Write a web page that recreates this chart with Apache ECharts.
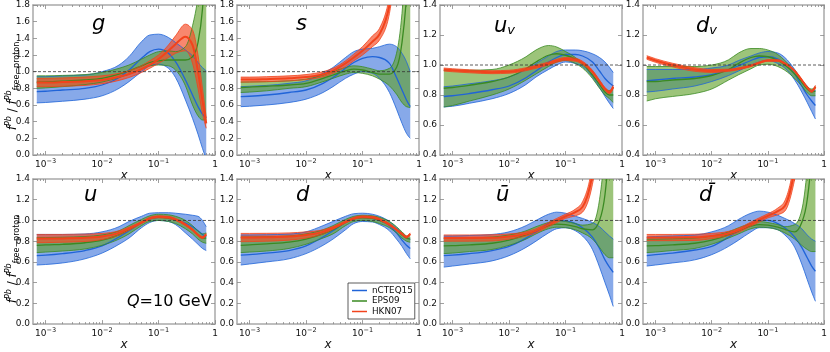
<!DOCTYPE html>
<html>
<head>
<meta charset="utf-8">
<script src="https://cdn.jsdelivr.net/npm/echarts@6/dist/echarts.min.js"></script>
<style>
html, body { margin: 0; padding: 0; background: #fff; }
#main { width: 830px; height: 352px; }
</style>
</head>
<body>
<div id="main"></div>
<script>
// x grid shared by every curve
var xs = [0.0007, 0.001, 0.002, 0.005, 0.01, 0.02, 0.03, 0.05, 0.07, 0.1, 0.15, 0.2, 0.3, 0.4, 0.5, 0.6, 0.7];

// g
var gBlueHi   = [0.94, 0.94, 0.95, 0.96, 1.00, 1.08, 1.18, 1.36, 1.44, 1.45, 1.41, 1.35, 1.26, 1.19, 1.11, 1.05, 1.01];
var gBlueMid  = [0.76, 0.765, 0.78, 0.80, 0.84, 0.93, 1.02, 1.16, 1.24, 1.27, 1.22, 1.12, 0.90, 0.72, 0.58, 0.49, 0.44];
var gBlueLo   = [0.625, 0.63, 0.645, 0.67, 0.71, 0.80, 0.88, 1.00, 1.07, 1.09, 1.04, 0.93, 0.66, 0.44, 0.25, 0.08, -0.05];
var gGreenHi  = [0.95, 0.95, 0.955, 0.965, 0.99, 1.04, 1.08, 1.15, 1.20, 1.24, 1.25, 1.24, 1.30, 1.55, 1.90, 2.40, 3.00];
var gGreenMid = [0.875, 0.877, 0.885, 0.90, 0.92, 0.97, 1.01, 1.07, 1.11, 1.13, 1.14, 1.14, 1.14, 1.18, 1.35, 1.75, 2.50];
var gGreenLo  = [0.80, 0.805, 0.82, 0.845, 0.875, 0.93, 0.97, 1.03, 1.07, 1.08, 1.07, 1.02, 0.83, 0.60, 0.47, 0.42, 0.42];
var gRedHi    = [0.92, 0.92, 0.925, 0.935, 0.95, 0.98, 1.01, 1.07, 1.13, 1.20, 1.32, 1.43, 1.57, 1.50, 1.20, 0.80, 0.45];
var gRedMid   = [0.87, 0.87, 0.875, 0.885, 0.90, 0.94, 0.97, 1.03, 1.08, 1.15, 1.25, 1.33, 1.42, 1.32, 1.00, 0.65, 0.38];
var gRedLo    = [0.82, 0.82, 0.825, 0.835, 0.855, 0.895, 0.93, 0.99, 1.04, 1.10, 1.17, 1.22, 1.25, 1.10, 0.80, 0.50, 0.32];

// s
var sBlueHi   = [0.82, 0.825, 0.835, 0.86, 0.89, 0.98, 1.05, 1.17, 1.24, 1.27, 1.28, 1.30, 1.33, 1.30, 1.22, 1.12, 1.00];
var sBlueMid  = [0.70, 0.705, 0.72, 0.75, 0.78, 0.86, 0.93, 1.04, 1.11, 1.16, 1.18, 1.17, 1.10, 0.93, 0.78, 0.66, 0.58];
var sBlueLo   = [0.58, 0.585, 0.60, 0.63, 0.67, 0.75, 0.82, 0.92, 0.97, 1.00, 0.98, 0.92, 0.75, 0.55, 0.38, 0.26, 0.20];
var sGreenHi  = [0.875, 0.877, 0.88, 0.89, 0.91, 0.96, 1.00, 1.05, 1.07, 1.06, 1.03, 1.01, 1.04, 1.22, 1.70, 2.50, 3.50];
var sGreenMid = [0.81, 0.815, 0.825, 0.84, 0.86, 0.92, 0.96, 1.01, 1.03, 1.02, 0.99, 0.97, 0.97, 1.05, 1.35, 1.90, 2.80];
var sGreenLo  = [0.75, 0.755, 0.77, 0.80, 0.82, 0.88, 0.92, 0.97, 0.99, 0.98, 0.95, 0.91, 0.83, 0.73, 0.63, 0.58, 0.57];
var sRedHi    = [0.935, 0.935, 0.94, 0.95, 0.965, 1.00, 1.04, 1.13, 1.21, 1.30, 1.43, 1.52, 1.90, 2.50, 3.00, 3.50, 4.00];
var sRedMid   = [0.905, 0.905, 0.91, 0.92, 0.935, 0.97, 1.01, 1.10, 1.17, 1.25, 1.36, 1.45, 1.80, 2.40, 2.90, 3.40, 3.90];
var sRedLo    = [0.875, 0.875, 0.88, 0.89, 0.905, 0.94, 0.98, 1.06, 1.13, 1.20, 1.30, 1.38, 1.70, 2.30, 2.80, 3.30, 3.80];

// u valence
var uvBlueHi   = [0.855, 0.86, 0.875, 0.895, 0.92, 0.97, 1.01, 1.06, 1.09, 1.10, 1.10, 1.095, 1.075, 1.05, 1.02, 0.985, 0.95];
var uvBlueMid  = [0.79, 0.795, 0.81, 0.835, 0.86, 0.915, 0.96, 1.02, 1.05, 1.07, 1.07, 1.06, 1.02, 0.96, 0.91, 0.88, 0.86];
var uvBlueLo   = [0.72, 0.725, 0.745, 0.775, 0.81, 0.87, 0.92, 0.97, 1.00, 1.02, 1.01, 0.99, 0.92, 0.85, 0.79, 0.745, 0.71];
var uvGreenHi  = [0.965, 0.965, 0.965, 0.97, 1.00, 1.055, 1.10, 1.13, 1.12, 1.09, 1.05, 1.01, 0.93, 0.875, 0.84, 0.83, 0.845];
var uvGreenMid = [0.845, 0.85, 0.865, 0.89, 0.92, 0.975, 1.02, 1.065, 1.075, 1.065, 1.04, 1.01, 0.935, 0.87, 0.82, 0.80, 0.80];
var uvGreenLo  = [0.72, 0.73, 0.76, 0.80, 0.84, 0.90, 0.94, 0.99, 1.02, 1.03, 1.01, 0.98, 0.91, 0.845, 0.80, 0.775, 0.75];
var uvRedHi    = [0.98, 0.975, 0.968, 0.962, 0.965, 0.982, 0.998, 1.02, 1.038, 1.05, 1.045, 1.025, 0.965, 0.90, 0.85, 0.828, 0.865];
var uvRedMid   = [0.97, 0.965, 0.958, 0.952, 0.955, 0.972, 0.988, 1.01, 1.028, 1.04, 1.035, 1.015, 0.955, 0.89, 0.84, 0.818, 0.855];
var uvRedLo    = [0.96, 0.955, 0.948, 0.942, 0.945, 0.962, 0.978, 1.00, 1.018, 1.03, 1.025, 1.005, 0.945, 0.88, 0.83, 0.808, 0.845];

// d valence
var dvBlueHi   = [0.97, 0.97, 0.97, 0.97, 0.98, 1.00, 1.03, 1.06, 1.08, 1.09, 1.08, 1.05, 0.97, 0.90, 0.86, 0.83, 0.83];
var dvBlueMid  = [0.895, 0.90, 0.91, 0.92, 0.935, 0.97, 0.995, 1.03, 1.05, 1.055, 1.04, 1.01, 0.94, 0.86, 0.80, 0.76, 0.73];
var dvBlueLo   = [0.82, 0.825, 0.84, 0.86, 0.89, 0.93, 0.96, 1.00, 1.02, 1.03, 1.01, 0.98, 0.90, 0.82, 0.75, 0.69, 0.64];
var dvGreenHi  = [0.99, 0.99, 0.99, 0.99, 1.00, 1.035, 1.08, 1.11, 1.11, 1.10, 1.07, 1.03, 0.96, 0.90, 0.855, 0.84, 0.855];
var dvGreenMid = [0.89, 0.89, 0.90, 0.91, 0.93, 0.97, 1.01, 1.05, 1.06, 1.055, 1.03, 1.00, 0.94, 0.885, 0.84, 0.82, 0.825];
var dvGreenLo  = [0.76, 0.775, 0.79, 0.81, 0.84, 0.90, 0.935, 0.975, 1.00, 1.005, 0.99, 0.965, 0.91, 0.86, 0.815, 0.795, 0.795];
var dvRedHi    = [1.062, 1.042, 1.012, 0.982, 0.97, 0.972, 0.981, 1.00, 1.02, 1.035, 1.035, 1.015, 0.965, 0.905, 0.855, 0.832, 0.865];
var dvRedMid   = [1.05, 1.03, 1.00, 0.97, 0.96, 0.965, 0.975, 0.995, 1.015, 1.03, 1.03, 1.01, 0.96, 0.90, 0.85, 0.825, 0.855];
var dvRedLo    = [1.038, 1.018, 0.988, 0.958, 0.95, 0.958, 0.969, 0.99, 1.01, 1.025, 1.025, 1.005, 0.955, 0.895, 0.845, 0.818, 0.845];

// u
var uBlueHi   = [0.865, 0.865, 0.865, 0.87, 0.89, 0.94, 0.99, 1.04, 1.07, 1.075, 1.075, 1.07, 1.06, 1.05, 1.04, 1.00, 0.94];
var uBlueMid  = [0.66, 0.665, 0.68, 0.71, 0.755, 0.84, 0.90, 0.975, 1.015, 1.03, 1.03, 1.01, 0.975, 0.94, 0.90, 0.865, 0.84];
var uBlueLo   = [0.57, 0.575, 0.59, 0.63, 0.685, 0.77, 0.83, 0.93, 0.98, 1.00, 0.99, 0.96, 0.88, 0.82, 0.77, 0.73, 0.71];
var uGreenHi  = [0.835, 0.835, 0.838, 0.845, 0.86, 0.90, 0.95, 1.01, 1.045, 1.06, 1.055, 1.04, 1.00, 0.95, 0.90, 0.87, 0.88];
var uGreenMid = [0.76, 0.765, 0.77, 0.785, 0.81, 0.86, 0.91, 0.98, 1.02, 1.03, 1.02, 1.005, 0.96, 0.91, 0.86, 0.83, 0.83];
var uGreenLo  = [0.69, 0.695, 0.705, 0.725, 0.76, 0.82, 0.87, 0.95, 0.99, 1.00, 0.99, 0.97, 0.92, 0.87, 0.82, 0.79, 0.78];
var uRedHi    = [0.865, 0.865, 0.865, 0.868, 0.875, 0.90, 0.935, 0.99, 1.03, 1.045, 1.04, 1.02, 0.97, 0.92, 0.87, 0.845, 0.875];
var uRedMid   = [0.825, 0.825, 0.827, 0.832, 0.845, 0.88, 0.92, 0.98, 1.02, 1.035, 1.03, 1.01, 0.96, 0.91, 0.86, 0.835, 0.865];
var uRedLo    = [0.785, 0.786, 0.79, 0.797, 0.815, 0.86, 0.905, 0.97, 1.01, 1.025, 1.02, 1.00, 0.95, 0.90, 0.85, 0.825, 0.855];

// d
var dBlueHi   = [0.86, 0.86, 0.862, 0.868, 0.89, 0.95, 0.99, 1.04, 1.065, 1.07, 1.06, 1.04, 0.99, 0.93, 0.88, 0.84, 0.82];
var dBlueMid  = [0.665, 0.67, 0.685, 0.71, 0.755, 0.84, 0.90, 0.98, 1.02, 1.03, 1.02, 1.00, 0.95, 0.88, 0.81, 0.76, 0.73];
var dBlueLo   = [0.57, 0.58, 0.60, 0.63, 0.68, 0.76, 0.82, 0.91, 0.97, 0.99, 0.985, 0.96, 0.90, 0.82, 0.75, 0.68, 0.63];
var dGreenHi  = [0.84, 0.84, 0.843, 0.85, 0.87, 0.91, 0.95, 1.01, 1.04, 1.05, 1.045, 1.03, 0.99, 0.94, 0.89, 0.85, 0.84];
var dGreenMid = [0.76, 0.765, 0.775, 0.79, 0.82, 0.87, 0.91, 0.98, 1.015, 1.025, 1.02, 1.00, 0.96, 0.91, 0.86, 0.83, 0.82];
var dGreenLo  = [0.69, 0.695, 0.705, 0.73, 0.77, 0.83, 0.87, 0.95, 0.99, 1.00, 0.99, 0.97, 0.93, 0.88, 0.83, 0.80, 0.79];
var dRedHi    = [0.875, 0.875, 0.876, 0.88, 0.89, 0.91, 0.94, 0.995, 1.03, 1.045, 1.04, 1.02, 0.97, 0.92, 0.88, 0.85, 0.88];
var dRedMid   = [0.835, 0.835, 0.838, 0.845, 0.86, 0.89, 0.93, 0.985, 1.02, 1.035, 1.03, 1.01, 0.96, 0.91, 0.87, 0.84, 0.87];
var dRedLo    = [0.795, 0.796, 0.80, 0.81, 0.83, 0.87, 0.915, 0.975, 1.01, 1.025, 1.02, 1.00, 0.95, 0.90, 0.86, 0.83, 0.86];

// u bar
var ubBlueHi   = [0.85, 0.85, 0.855, 0.865, 0.89, 0.95, 1.00, 1.06, 1.08, 1.07, 1.04, 1.02, 0.98, 0.94, 0.89, 0.85, 0.82];
var ubBlueMid  = [0.66, 0.665, 0.68, 0.71, 0.75, 0.83, 0.89, 0.97, 1.00, 0.995, 0.97, 0.93, 0.84, 0.73, 0.62, 0.55, 0.50];
var ubBlueLo   = [0.55, 0.56, 0.58, 0.61, 0.66, 0.74, 0.80, 0.88, 0.92, 0.93, 0.90, 0.85, 0.72, 0.55, 0.40, 0.28, 0.17];
var ubGreenHi  = [0.83, 0.83, 0.832, 0.84, 0.86, 0.90, 0.94, 0.98, 1.00, 0.99, 0.97, 0.955, 0.97, 1.20, 1.70, 2.40, 3.20];
var ubGreenMid = [0.755, 0.757, 0.765, 0.78, 0.81, 0.86, 0.90, 0.95, 0.965, 0.96, 0.94, 0.92, 0.91, 1.00, 1.25, 1.75, 2.50];
var ubGreenLo  = [0.68, 0.685, 0.70, 0.72, 0.76, 0.82, 0.87, 0.92, 0.935, 0.93, 0.91, 0.88, 0.82, 0.74, 0.67, 0.64, 0.64];
var ubRedHi    = [0.86, 0.86, 0.86, 0.862, 0.87, 0.89, 0.92, 0.98, 1.02, 1.06, 1.11, 1.18, 1.55, 2.20, 3.00, 3.80, 4.50];
var ubRedMid   = [0.83, 0.83, 0.83, 0.832, 0.845, 0.87, 0.90, 0.96, 1.00, 1.04, 1.08, 1.13, 1.45, 2.00, 2.80, 3.60, 4.30];
var ubRedLo    = [0.80, 0.80, 0.80, 0.802, 0.82, 0.85, 0.88, 0.94, 0.98, 1.02, 1.045, 1.08, 1.35, 1.80, 2.60, 3.40, 4.10];

// d bar
var dbBlueHi   = [0.84, 0.845, 0.85, 0.86, 0.89, 0.95, 1.01, 1.07, 1.09, 1.08, 1.05, 1.02, 0.97, 0.92, 0.86, 0.82, 0.80];
var dbBlueMid  = [0.66, 0.67, 0.685, 0.715, 0.75, 0.84, 0.90, 0.97, 1.00, 1.00, 0.97, 0.93, 0.84, 0.74, 0.64, 0.56, 0.51];
var dbBlueLo   = [0.56, 0.57, 0.59, 0.62, 0.67, 0.75, 0.81, 0.89, 0.93, 0.93, 0.91, 0.86, 0.74, 0.58, 0.43, 0.31, 0.22];
var dbGreenHi  = [0.82, 0.82, 0.823, 0.83, 0.85, 0.89, 0.93, 0.97, 0.99, 0.98, 0.96, 0.94, 0.96, 1.10, 1.50, 2.10, 3.00];
var dbGreenMid = [0.755, 0.757, 0.765, 0.78, 0.81, 0.86, 0.90, 0.945, 0.96, 0.955, 0.935, 0.915, 0.89, 0.98, 1.20, 1.65, 2.50];
var dbGreenLo  = [0.69, 0.695, 0.71, 0.73, 0.77, 0.83, 0.87, 0.92, 0.935, 0.93, 0.91, 0.88, 0.82, 0.76, 0.72, 0.70, 0.70];
var dbRedHi    = [0.865, 0.865, 0.865, 0.867, 0.875, 0.895, 0.925, 0.985, 1.025, 1.065, 1.12, 1.19, 1.60, 2.20, 3.00, 3.80, 4.50];
var dbRedMid   = [0.835, 0.835, 0.835, 0.837, 0.85, 0.875, 0.905, 0.965, 1.005, 1.045, 1.09, 1.14, 1.50, 2.00, 2.80, 3.60, 4.30];
var dbRedLo    = [0.805, 0.805, 0.805, 0.807, 0.825, 0.855, 0.885, 0.945, 0.985, 1.025, 1.055, 1.09, 1.40, 1.80, 2.60, 3.40, 4.10];

var xMajor = [0.001, 0.01, 0.1, 1];
var xMinor = [];
[0.0001, 0.001, 0.01, 0.1].forEach(function (d) {
    for (var m = 2; m <= 9; m++) {
        var v = m * d;
        if (v > 0.00061 && v < 1) xMinor.push(v);
    }
});

var FONT = 'DejaVu Sans';
var FRAME = '#a9a9a9';
var COLORS = {
    blue:  { line: '#2064d8', fill: 'rgba(55,112,218,0.6)', name: 'nCTEQ15' },
    green: { line: '#3a8a22', fill: 'rgba(95,160,40,0.62)', name: 'EPS09' },
    red:   { line: '#f2431c', fill: 'rgba(244,78,42,0.68)', name: 'HKN07' }
};

var panels = [
    { blue: [gBlueLo, gBlueMid, gBlueHi], green: [gGreenLo, gGreenMid, gGreenHi], red: [gRedLo, gRedMid, gRedHi], ymin: 0, ymax: 1.8 },
    { blue: [sBlueLo, sBlueMid, sBlueHi], green: [sGreenLo, sGreenMid, sGreenHi], red: [sRedLo, sRedMid, sRedHi], ymin: 0, ymax: 1.8 },
    { blue: [uvBlueLo, uvBlueMid, uvBlueHi], green: [uvGreenLo, uvGreenMid, uvGreenHi], red: [uvRedLo, uvRedMid, uvRedHi], ymin: 0.4, ymax: 1.4 },
    { blue: [dvBlueLo, dvBlueMid, dvBlueHi], green: [dvGreenLo, dvGreenMid, dvGreenHi], red: [dvRedLo, dvRedMid, dvRedHi], ymin: 0.4, ymax: 1.4 },
    { blue: [uBlueLo, uBlueMid, uBlueHi], green: [uGreenLo, uGreenMid, uGreenHi], red: [uRedLo, uRedMid, uRedHi], ymin: 0, ymax: 1.4 },
    { blue: [dBlueLo, dBlueMid, dBlueHi], green: [dGreenLo, dGreenMid, dGreenHi], red: [dRedLo, dRedMid, dRedHi], ymin: 0, ymax: 1.4 },
    { blue: [ubBlueLo, ubBlueMid, ubBlueHi], green: [ubGreenLo, ubGreenMid, ubGreenHi], red: [ubRedLo, ubRedMid, ubRedHi], ymin: 0, ymax: 1.4 },
    { blue: [dbBlueLo, dbBlueMid, dbBlueHi], green: [dbGreenLo, dbGreenMid, dbGreenHi], red: [dbRedLo, dbRedMid, dbRedHi], ymin: 0, ymax: 1.4 }
];

var lefts = [33, 237, 440, 643];
var tops = [5, 179];
var W = 182, H = 150;

function fmtX(v) {
    var e = Math.round(Math.log(v) / Math.LN10);
    if (e === 0) return '{b|1}';
    return '{b|10}{s|\u2212' + (-e) + '}';
}

// monotone cubic through pixel points (same idea as d3 curveMonotoneX)
function curvePath(pts, start) {
    var n = pts.length, h = [], s = [], m = [], i;
    for (i = 0; i < n - 1; i++) {
        h[i] = pts[i + 1][0] - pts[i][0];
        s[i] = h[i] ? (pts[i + 1][1] - pts[i][1]) / h[i] : 0;
    }
    for (i = 1; i < n - 1; i++) {
        var p = (s[i - 1] * h[i] + s[i] * h[i - 1]) / (h[i - 1] + h[i]);
        m[i] = (Math.sign(s[i - 1]) + Math.sign(s[i])) *
            Math.min(Math.abs(s[i - 1]), Math.abs(s[i]), 0.5 * Math.abs(p)) || 0;
    }
    m[0] = (3 * s[0] - m[1]) / 2;
    m[n - 1] = (3 * s[n - 2] - m[n - 2]) / 2;
    var d = start + pts[0][0] + ',' + pts[0][1];
    for (i = 0; i < n - 1; i++) {
        var dx = h[i] / 3;
        d += 'C' + (pts[i][0] + dx) + ',' + (pts[i][1] + dx * m[i]) + ',' +
            (pts[i + 1][0] - dx) + ',' + (pts[i + 1][1] - dx * m[i + 1]) + ',' +
            pts[i + 1][0] + ',' + pts[i + 1][1];
    }
    return d;
}

function toPx(api, ys) {
    return xs.map(function (x, j) { return api.coord([x, ys[j]]); });
}

var grids = [], xAxes = [], yAxes = [], series = [];

panels.forEach(function (p, i) {
    var col = i % 4, row = Math.floor(i / 4);
    grids.push({ left: lefts[col], top: tops[row], width: W, height: row ? H - 1 : H });

    var xBase = { gridIndex: i, type: 'log', logBase: 10, min: 0.0006, max: 1, splitLine: { show: false } };
    xAxes.push(Object.assign({}, xBase, {
        position: 'bottom',
        name: 'x', nameLocation: 'middle', nameGap: 9,
        nameTextStyle: { fontFamily: FONT, fontStyle: 'italic', fontSize: 12, color: '#111' },
        axisLine: { show: true, onZero: false, lineStyle: { color: FRAME, width: 1.5 } },
        axisTick: { show: true, inside: true, length: 4, customValues: xMajor, lineStyle: { color: '#888', width: 0.8 } },
        axisLabel: {
            show: true, customValues: xMajor, margin: 3, formatter: fmtX,
            showMinLabel: true, showMaxLabel: true, hideOverlap: false,
            rich: {
                b: { fontFamily: FONT, fontSize: 9, color: '#111', lineHeight: 11, verticalAlign: 'bottom' },
                s: { fontFamily: FONT, fontSize: 6.5, color: '#111', lineHeight: 7, verticalAlign: 'top' }
            }
        }
    }));
    xAxes.push(Object.assign({}, xBase, {
        position: 'top',
        axisLine: { show: true, onZero: false, lineStyle: { color: FRAME, width: 1.5 } },
        axisTick: { show: true, inside: true, length: 4, customValues: xMajor, lineStyle: { color: '#888', width: 0.8 } },
        axisLabel: { show: false }
    }));
    ['bottom', 'top'].forEach(function (pos) {
        xAxes.push(Object.assign({}, xBase, {
            position: pos,
            axisLine: { show: false, onZero: false },
            axisTick: { show: true, inside: true, length: 2, customValues: xMinor, lineStyle: { color: '#888', width: 0.8 } },
            axisLabel: { show: false }
        }));
    });

    var yBase = { gridIndex: i, type: 'value', min: p.ymin, max: p.ymax, interval: 0.2, splitLine: { show: false } };
    yAxes.push(Object.assign({}, yBase, {
        position: 'left',
        axisLine: { show: true, onZero: false, lineStyle: { color: FRAME, width: 1.5 } },
        axisTick: { show: true, inside: true, length: 4, lineStyle: { color: '#888', width: 0.8 } },
        axisLabel: {
            show: true, margin: 3, fontFamily: FONT, fontSize: 9, color: '#111',
            showMinLabel: true, showMaxLabel: true,
            formatter: function (v) { return v.toFixed(1); }
        }
    }));
    yAxes.push(Object.assign({}, yBase, {
        position: 'right',
        axisLine: { show: true, onZero: false, lineStyle: { color: FRAME, width: 1.5 } },
        axisTick: { show: true, inside: true, length: 4, lineStyle: { color: '#888', width: 0.8 } },
        axisLabel: { show: false }
    }));

    var xi = i * 4, yi = i * 2;
    // band fills
    ['blue', 'green', 'red'].forEach(function (k) {
        var c = COLORS[k], lo = p[k][0], hi = p[k][2];
        series.push({
            type: 'custom', name: c.name + ' band', xAxisIndex: xi, yAxisIndex: yi,
            clip: true, silent: true, data: [[0.01, 1]],
            renderItem: function (params, api) {
                var top = toPx(api, hi), bot = toPx(api, lo).reverse();
                return {
                    type: 'path',
                    shape: { pathData: curvePath(top, 'M') + curvePath(bot, 'L') + 'Z' },
                    style: { fill: c.fill, stroke: null }
                };
            }
        });
    });
    // band edges and central lines
    ['blue', 'green', 'red'].forEach(function (k) {
        var c = COLORS[k], lo = p[k][0], mid = p[k][1], hi = p[k][2];
        series.push({
            type: 'custom', name: c.name, xAxisIndex: xi, yAxisIndex: yi,
            clip: true, silent: true, data: [[0.01, 1]],
            itemStyle: { color: c.line },
            renderItem: function (params, api) {
                var kids = [
                    { type: 'path', shape: { pathData: curvePath(toPx(api, lo), 'M') }, style: { fill: 'none', stroke: c.line, lineWidth: 0.8 } },
                    { type: 'path', shape: { pathData: curvePath(toPx(api, hi), 'M') }, style: { fill: 'none', stroke: c.line, lineWidth: 0.8 } },
                    { type: 'path', shape: { pathData: curvePath(toPx(api, mid), 'M') }, style: { fill: 'none', stroke: c.line, lineWidth: k === 'red' ? 2 : 1.3 } }
                ];
                if (k === 'red') {
                    var a = api.coord([0.0006, 1]), b = api.coord([1, 1]);
                    kids.push({
                        type: 'line', shape: { x1: a[0], y1: a[1], x2: b[0], y2: b[1] },
                        style: { stroke: '#333', lineWidth: 0.8, lineDash: [3, 2] }
                    });
                }
                return { type: 'group', children: kids };
            }
        });
    });
});

function panelLabel(x, y, text, rich) {
    return {
        type: 'text', x: x, y: y, silent: true,
        style: {
            text: text, fill: '#000', align: 'left', verticalAlign: 'middle',
            fontFamily: FONT, fontStyle: 'italic', fontSize: 21, rich: rich
        }
    };
}
var subRich = {
    m: { fontFamily: FONT, fontStyle: 'italic', fontSize: 21, lineHeight: 24, verticalAlign: 'bottom' },
    v: { fontFamily: FONT, fontStyle: 'italic', fontSize: 13, lineHeight: 13, verticalAlign: 'bottom' }
};
var yTitleRich = {
    i: { fontFamily: FONT, fontStyle: 'italic', fontSize: 12, lineHeight: 16, verticalAlign: 'middle', fill: '#000' },
    sp: { fontFamily: FONT, fontStyle: 'italic', fontSize: 8, lineHeight: 16, verticalAlign: 'top', fill: '#000' },
    n: { fontFamily: FONT, fontSize: 12, lineHeight: 16, verticalAlign: 'middle', fill: '#000' },
    sb: { fontFamily: FONT, fontSize: 8, lineHeight: 9, verticalAlign: 'bottom', fill: '#000' }
};
var yTitle = '{i|f}{sp|Pb}{n| / }{i|f}{sp|Pb}{sb|free\u2212proton}';

var graphics = [
    panelLabel(92, 25, 'g'),
    panelLabel(296, 25, 's'),
    panelLabel(494, 25, '{m|u}{v|v}', subRich),
    panelLabel(696, 25, '{m|d}{v|v}', subRich),
    panelLabel(84, 196, 'u'),
    panelLabel(296, 196, 'd'),
    panelLabel(496, 196, '\u016b'),
    panelLabel(699, 196, 'd\u0304'),
    {
        type: 'text', x: 13, y: 86, rotation: Math.PI / 2, silent: true,
        style: { text: yTitle, rich: yTitleRich, align: 'center', verticalAlign: 'middle' }
    },
    {
        type: 'text', x: 13, y: 259, rotation: Math.PI / 2, silent: true,
        style: { text: yTitle, rich: yTitleRich, align: 'center', verticalAlign: 'middle' }
    },
    {
        type: 'text', x: 127, y: 302, silent: true,
        style: {
            text: '{q|Q}{n|=10 GeV}', align: 'left', verticalAlign: 'middle',
            rich: {
                q: { fontFamily: FONT, fontStyle: 'italic', fontSize: 16, fill: '#000' },
                n: { fontFamily: FONT, fontSize: 16, fill: '#000' }
            }
        }
    }
];

var chart = echarts.init(document.getElementById('main'));
chart.setOption({
    animation: false,
    backgroundColor: '#fff',
    grid: grids,
    xAxis: xAxes,
    yAxis: yAxes,
    series: series,
    graphic: graphics,
    legend: {
        left: 348, top: 283, orient: 'vertical',
        data: ['nCTEQ15', 'EPS09', 'HKN07'],
        icon: 'rect', itemWidth: 15, itemHeight: 1.5, itemGap: 1.5,
        textStyle: { fontFamily: FONT, fontSize: 8.8, color: '#111' },
        borderColor: '#333', borderWidth: 0.8, padding: [3, 2, 3, 4],
        backgroundColor: '#fff', selectedMode: false, z: 10
    }
});
</script>
</body>
</html>
